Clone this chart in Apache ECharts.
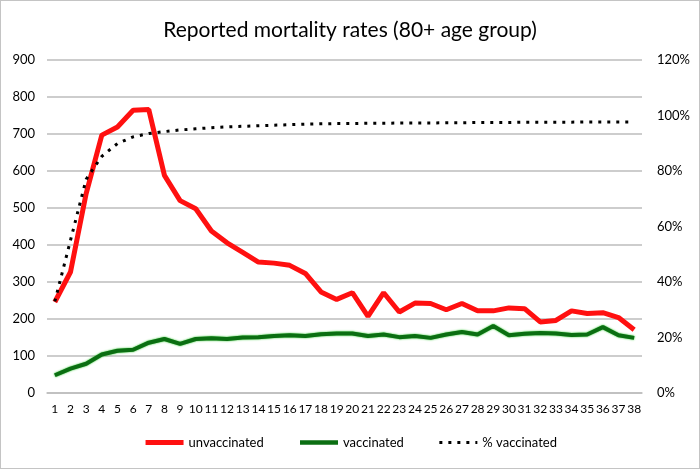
<!DOCTYPE html>
<html>
<head>
<meta charset="utf-8">
<script src="https://cdn.jsdelivr.net/npm/echarts@6/dist/echarts.min.js"></script>
<style>
html, body { margin: 0; padding: 0; background: #fff; }
#chart { width: 698px; height: 467px; border: 1px solid #c4c4c4; }
</style>
</head>
<body>
<div id="chart"></div>
<script>
// 周次 1..38
let weeks = [];
for (let i = 1; i <= 38; i++) {
    weeks.push(String(i));
}
// 未接种死亡率
let unvaccinated = [246, 327, 539, 697, 719, 764, 766, 588, 520, 498, 438, 406, 380, 354, 351, 345, 323, 273, 253, 271,
    207, 271, 219, 243, 242, 225, 242, 222, 222, 230, 228, 192, 196, 222, 215, 217, 204, 171];
// 已接种死亡率
let vaccinated = [48, 66, 79, 104, 114, 117, 136, 146, 133, 146, 148, 146, 150, 151, 154, 156, 154, 159, 161, 161,
    154, 158, 151, 154, 149, 158, 165, 158, 181, 156, 160, 162, 161, 157, 158, 178, 156, 149];
// 接种比例 %
let pctVaccinated = [33, 55, 77, 85.3, 89.9, 92.3, 93.5, 94.2, 94.8, 95.2, 95.6, 95.9, 96.1, 96.3, 96.5, 96.7, 96.9, 97.0, 97.1, 97.1,
    97.2, 97.2, 97.3, 97.3, 97.3, 97.4, 97.4, 97.5, 97.5, 97.5, 97.6, 97.6, 97.6, 97.6, 97.7, 97.7, 97.7, 97.7];

let fontName = 'Lato';
let gridColor = '#bdbdbd';

var myChart = echarts.init(document.getElementById('chart'));
let option = {
    backgroundColor: '#fff',
    animation: false,
    textStyle: { fontFamily: fontName, color: '#000' },
    title: {
        text: 'Reported mortality rates (80+ age group)',
        left: 'center',
        top: 14,
        textStyle: { fontFamily: fontName, fontSize: 21, fontWeight: 'normal', color: '#000' }
    },
    legend: {
        bottom: 14,
        left: 'center',
        itemWidth: 38,
        itemHeight: 8,
        itemGap: 34,
        itemStyle: { opacity: 0 }, // 不显示圆点
        lineStyle: { width: 5 },
        textStyle: { fontFamily: fontName, fontSize: 13, color: '#000' },
        data: [
            { name: 'unvaccinated' },
            { name: 'vaccinated', lineStyle: { width: 4.5 } },
            { name: '% vaccinated', lineStyle: { width: 3 } }
        ]
    },
    grid: { left: 46, right: 57, top: 59, bottom: 75 },
    xAxis: {
        type: 'category',
        data: weeks,
        boundaryGap: true,
        axisLine: { show: true, lineStyle: { color: gridColor, width: 1.5 } },
        axisTick: { show: false },
        axisLabel: { interval: 0, fontSize: 12, color: '#000', margin: 10 }
    },
    yAxis: [
        {
            type: 'value',
            min: 0,
            max: 900,
            interval: 100,
            axisLine: { show: false },
            axisTick: { show: false },
            axisLabel: { fontSize: 13, color: '#000', margin: 12 },
            splitLine: { lineStyle: { color: gridColor, width: 1.5 } }
        },
        {
            type: 'value',
            min: 0,
            max: 120,
            interval: 20,
            position: 'right',
            axisLine: { show: false },
            axisTick: { show: false },
            splitLine: { show: false },
            axisLabel: { fontSize: 13, color: '#000', margin: 15, formatter: '{value}%' }
        }
    ],
    series: [
        {
            name: 'unvaccinated',
            type: 'line',
            data: unvaccinated,
            yAxisIndex: 0,
            symbol: 'none',
            color: '#ff1010',
            lineStyle: { color: '#ff1010', width: 5 }
        },
        {
            name: 'vaccinated',
            type: 'line',
            data: vaccinated,
            yAxisIndex: 0,
            symbol: 'none',
            color: '#0b6e12',
            lineStyle: { color: '#0b6e12', width: 4, shadowColor: '#22c422', shadowBlur: 2 }
        },
        {
            name: '% vaccinated',
            type: 'line',
            data: pctVaccinated,
            yAxisIndex: 1,
            symbol: 'none',
            color: '#000',
            lineStyle: { color: '#000', width: 3, type: [3, 6] }
        }
    ]
};
myChart.setOption(option);
</script>
</body>
</html>
